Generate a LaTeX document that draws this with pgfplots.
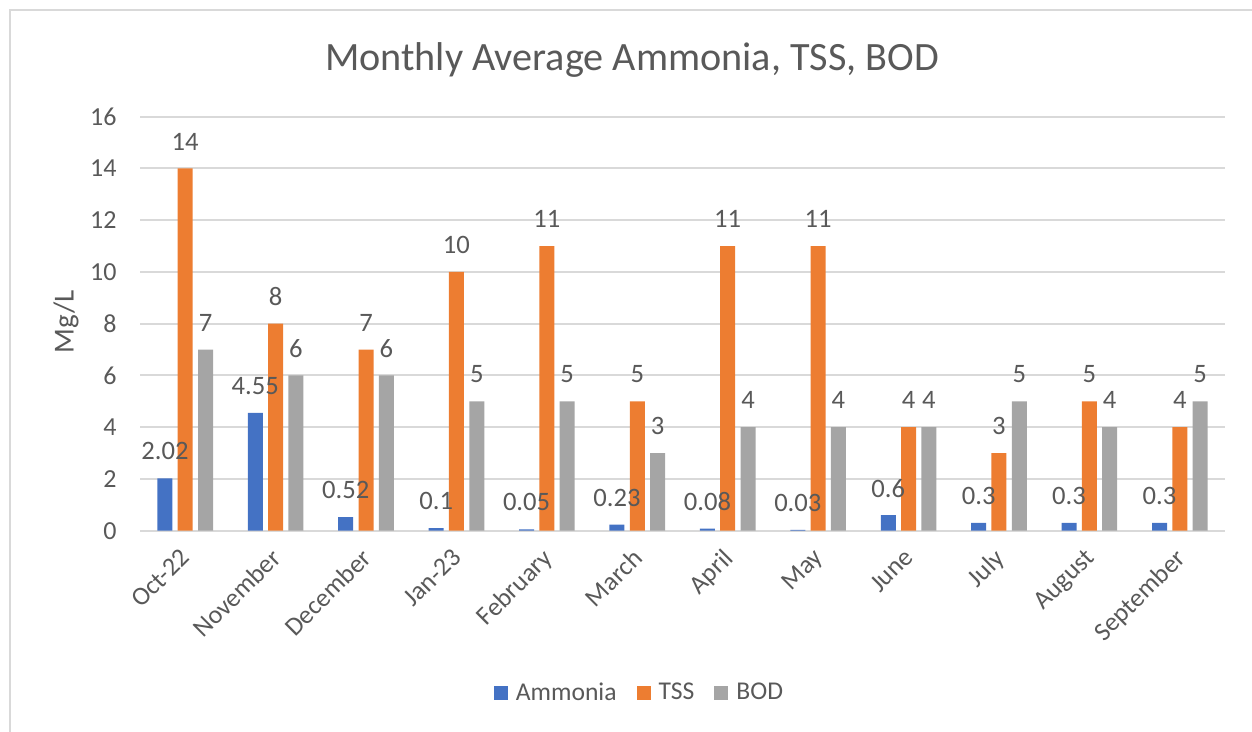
\documentclass[border=0pt]{standalone}
\usepackage{pgfplots}
\pgfplotsset{compat=1.18}
\usepackage{fontspec}
\setmainfont{Carlito}
\definecolor{amm}{HTML}{4472C4}
\definecolor{tss}{HTML}{ED7D31}
\definecolor{bod}{HTML}{A5A5A5}
\definecolor{txt}{HTML}{595959}
\definecolor{grd}{HTML}{D9D9D9}
\begin{document}
\begin{tikzpicture}
\path[use as bounding box] (0pt,0pt) rectangle (626pt,366pt);
\draw[grd, line width=1pt] (5pt,0pt) -- (5pt,361pt) -- (626pt,361pt);
\node[text=txt, font=\fontsize{20.1}{24}\selectfont, anchor=center] at (316pt,336pt) {Monthly Average Ammonia, TSS, BOD};
\node[text=txt, font=\fontsize{14.5}{17}\selectfont, rotate=90, anchor=center] at (33pt,205pt) {Mg/L};
\begin{axis}[
  at={(70pt,100.65pt)}, anchor=south west,
  scale only axis, width=542.5pt, height=207pt,
  ybar, bar width=7.5pt,
  ymin=0, ymax=16, xmin=-0.5, xmax=11.5,
  ytick={0,2,...,16},
  xtick={0,...,11},
  xticklabels={Oct-22,November,December,Jan-23,February,March,April,May,June,July,August,September},
  /pgf/number format/assume math mode=true,
  /pgf/number format/fixed,
  axis line style={draw=none},
  major tick length=0pt,
  ymajorgrids, grid style={draw=grd, line width=1pt},
  clip=false,
  ticklabel style={text=txt, font=\fontsize{13}{15}\selectfont},
  yticklabel style={anchor=east, inner sep=0pt, xshift=-11.5pt},
  xticklabel style={inner sep=0pt, xshift=-3pt, yshift=-8pt, rotate=45, anchor=north east},
  nodes near coords={\pgfmathprintnumber[fixed,precision=2,assume math mode=true]{\pgfplotspointmeta}},
  every node near coord/.append style={anchor=center, yshift=13.5pt, text=txt, font=\fontsize{13.3}{15}\selectfont},
  legend columns=3,
  legend style={draw=none, at={(0.4594,-0.392)}, anchor=center, font=\fontsize{12.8}{15}\selectfont, text=txt,
    nodes={inner sep=0pt},
    /tikz/every odd column/.append style={column sep=4pt},
    /tikz/every even column/.append style={column sep=10pt}},
  legend image code/.code={\fill[#1] (0pt,-3.5pt) rectangle (7pt,3.5pt);},
]
\addplot[fill=amm, draw=none, bar shift=-10.15pt] coordinates {(0,2.02) (1,4.55) (2,0.52) (3,0.1) (4,0.05) (5,0.23) (6,0.08) (7,0.03) (8,0.6) (9,0.3) (10,0.3) (11,0.3)};
\addplot[fill=tss, draw=none, bar shift=0pt] coordinates {(0,14) (1,8) (2,7) (3,10) (4,11) (5,5) (6,11) (7,11) (8,4) (9,3) (10,5) (11,4)};
\addplot[fill=bod, draw=none, bar shift=10.15pt] coordinates {(0,7) (1,6) (2,6) (3,5) (4,5) (5,3) (6,4) (7,4) (8,4) (9,5) (10,4) (11,5)};
\legend{Ammonia,TSS,BOD}
\end{axis}
\end{tikzpicture}
\end{document}
